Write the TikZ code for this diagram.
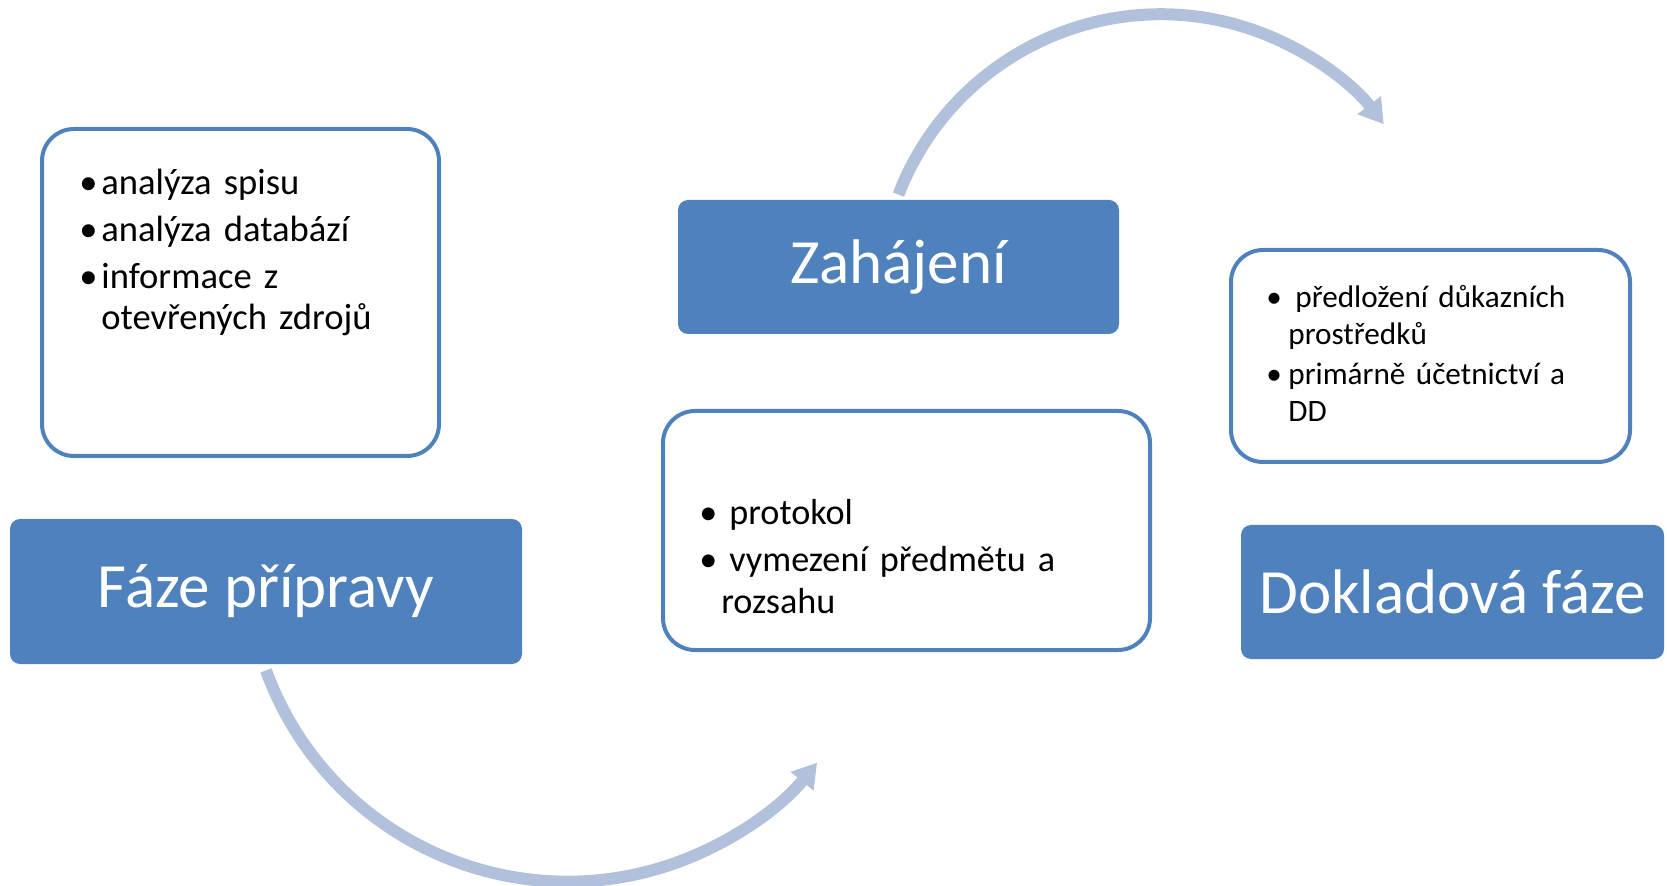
\documentclass[tikz,border=0pt]{standalone}
\usepackage{fontspec}
\setmainfont{Carlito}
\usetikzlibrary{arrows.meta}
\definecolor{phaseblue}{HTML}{4F81BD}
\definecolor{flowblue}{HTML}{B2C1DB}
\newcommand{\itm}[1]{\noindent\llap{\makebox[11pt][l]{\textbullet}}#1\par}
\begin{document}
\begin{tikzpicture}[x=0.5pt, y=0.5pt,
    phase/.style={fill=phaseblue, rounded corners=5pt, text=white,
      font=\fontsize{31.5}{38}\selectfont, inner sep=0pt},
    infobox/.style={draw=phaseblue, line width=2pt, rounded corners=16pt, inner sep=0pt},
    infotext/.style={anchor=base west, inner sep=0pt, text width=#1, align=left},
    flow/.style={draw=flowblue, line width=6pt, -{Triangle[width=14pt,length=12pt]}}]
    \useasboundingbox (0,0) rectangle (1667,885);
    % the three phases
    \node[phase, minimum width=256pt, minimum height=72.5pt] (prep) at (266,293.5) {Fáze přípravy};
    \node[phase, minimum width=220.5pt, minimum height=67pt] (zah) at (898.5,618) {Zahájení};
    \node[phase, minimum width=211.5pt, minimum height=67pt] (dok) at (1452.5,293) {Dokladová fáze};
    % boxes with the details
    \node[infobox, minimum width=198.5pt, minimum height=163.5pt] (prepinfo) at (240.5,592.5) {};
    \node[infobox, minimum width=243.5pt, minimum height=119.5pt] (zahinfo) at (906.5,354.5) {};
    \node[infobox, minimum width=199.5pt, minimum height=106pt] (dokinfo) at (1430.5,529) {};
    \node[infotext=170pt, font=\fontsize{18.3}{20.5}\selectfont,
      execute at begin node=\setlength{\parskip}{3pt}] (preplist) at (101,690.5)
      {\itm{analýza spisu}\itm{analýza databází}\itm{informace z\\otevřených zdrojů}};
    \node[infotext=220pt, font=\fontsize{18.1}{20.75}\selectfont,
      execute at begin node=\setlength{\parskip}{2.75pt}] (zahlist) at (721,360)
      {\itm{\hspace{4pt}protokol}\itm{\hspace{4pt}vymezení předmětu a\\rozsahu}};
    \node[infotext=180pt, font=\fontsize{15.6}{18.25}\selectfont,
      execute at begin node=\setlength{\parskip}{2pt}] (doklist) at (1288,577)
      {\itm{\hspace{3.5pt}předložení důkazních\\prostředků}\itm{primárně účetnictví a\\DD}};
    % arrows between phases
    \draw[flow] ([yshift=2.5pt]zah.north) arc[start angle=159, end angle=37.5, radius=140.5pt];
    \draw[flow] ([yshift=-3pt]prep.south) arc[start angle=200, end angle=321, radius=160.5pt];
\end{tikzpicture}
\end{document}
